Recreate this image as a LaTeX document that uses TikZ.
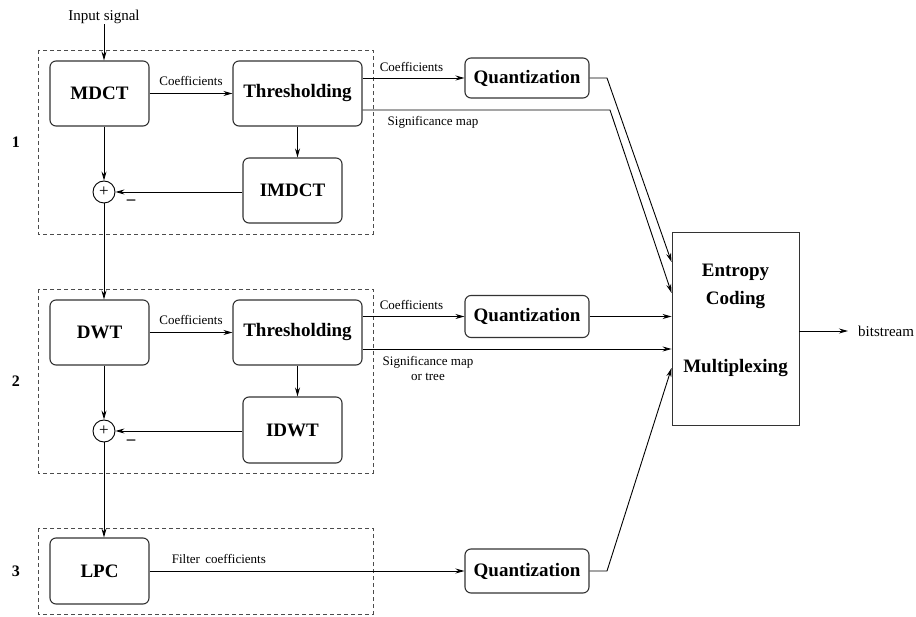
\documentclass[tikz,border=0pt]{standalone}
\usepackage{fontspec}
\setmainfont{Liberation Serif}
\usetikzlibrary{arrows.meta}
\begin{document}
\begin{tikzpicture}[x=1pt,y=-1pt,
  blk/.style={draw=black!80, line width=1.1pt, rounded corners=6pt, inner sep=0pt,
    font=\bfseries\fontsize{19}{22}\selectfont},
  lbl/.style={inner sep=0pt, font=\fontsize{13}{15}\selectfont},
  big/.style={inner sep=0pt, font=\fontsize{15}{17}\selectfont},
  num/.style={inner sep=0pt, font=\bfseries\fontsize{16}{18}\selectfont},
  sumnode/.style={draw, circle, line width=0.9pt, minimum size=22pt, inner sep=0pt,
    font=\fontsize{17}{17}\selectfont},
  minus/.style={inner sep=0pt, font=\bfseries\fontsize{17}{17}\selectfont},
  frame/.style={draw=black!70, line width=0.9pt, dash pattern=on 4pt off 3pt},
  wire/.style={line width=0.9pt},
  arr/.style={wire, -{Stealth[length=9pt,width=5pt,inset=3pt]}}
]
\useasboundingbox (0,0) rectangle (916,617);

% stage frames
\draw[frame] (38,50) rectangle (373,234);
\draw[frame] (38,289) rectangle (373,473);
\draw[frame] (38,528) rectangle (373,614);

% stage numbers
\node[num] (n1) at (16,142) {1};
\node[num] (n2) at (16,381) {2};
\node[num] (n3) at (16,571) {3};

% stage 1: MDCT
\node[big] (in) at (104,17) {Input signal};
\node[blk, minimum width=99pt, minimum height=65pt] (mdct) at (99.5,93.5) {MDCT};
\node[blk, minimum width=129pt, minimum height=65pt] (thr1) at (297.5,93.5) {Thresholding};
\node[blk, minimum width=99pt, minimum height=65pt] (imdct) at (292.5,190.5) {IMDCT};
\node[sumnode] (sum1) at (104,192) {+};
\node[minus] (m1) at (131,202) {–};
\node[blk, minimum width=124pt, minimum height=40pt] (q1) at (527,78) {Quantization};

% stage 2: DWT
\node[blk, minimum width=99pt, minimum height=65pt] (dwt) at (99.5,332.5) {DWT};
\node[blk, minimum width=129pt, minimum height=65pt] (thr2) at (297.5,332.5) {Thresholding};
\node[blk, minimum width=99pt, minimum height=66pt] (idwt) at (292.5,430) {IDWT};
\node[sumnode] (sum2) at (104,431) {+};
\node[minus] (m2) at (131,442) {–};
\node[blk, minimum width=124pt, minimum height=42pt] (q2) at (527,316.5) {Quantization};

% stage 3: LPC
\node[blk, minimum width=99pt, minimum height=66pt] (lpc) at (99.5,571) {LPC};
\node[blk, minimum width=124pt, minimum height=44pt] (q3) at (527,571) {Quantization};

% entropy coder / multiplexer
\node[draw=black!80, line width=0.9pt, minimum width=127pt, minimum height=193pt] (ent) at (735.5,328.5) {};
\node[inner sep=0pt, align=center, font=\bfseries\fontsize{19}{28}\selectfont] (enttxt) at (735.5,320)
  {Entropy\\Coding\\[40pt]Multiplexing};
\node[big, anchor=west] (bits) at (858,331) {bitstream};
\coordinate (bitsin) at (848,331);

% bends of the links into the coder
\coordinate (b1) at (607,78);
\coordinate (b2) at (610,110);
\coordinate (b3) at (607,571);

% stage 1 links
\draw[arr] (in.south) -- (in |- mdct.north);
\draw[arr] (mdct.east) -- node[lbl, above=7pt] (c1) {Coefficients} (mdct.east -| thr1.west);
\draw[arr] (thr1.south) -- (thr1.south |- imdct.north);
\draw[arr] (imdct.west |- sum1) -- (sum1.east);
\draw[arr] (sum1 |- mdct.south) -- (sum1.north);
\draw[arr] (thr1.east |- q1) -- node[lbl, pos=0.48, above=6pt] (c2) {Coefficients} (q1.west);
\draw[arr] (q1.east) -- (b1) -- (ent.west |- 0,262);
\draw[arr] (thr1.east |- b2) -- (b2) -- (ent.west |- 0,293);
\node[lbl] (s1) at (433,122) {Significance map};

% stage 2 links
\draw[arr] (sum1.south) -- (sum1 |- dwt.north);
\draw[arr] (dwt.east) -- node[lbl, above=7pt] (c3) {Coefficients} (dwt.east -| thr2.west);
\draw[arr] (thr2.south) -- (thr2.south |- idwt.north);
\draw[arr] (idwt.west |- sum2) -- (sum2.east);
\draw[arr] (sum2 |- dwt.south) -- (sum2.north);
\draw[arr] (thr2.east |- q2) -- node[lbl, pos=0.48, above=6pt] (c4) {Coefficients} (q2.west);
\draw[arr] (q2.east) -- (ent.west |- q2);
\draw[arr] (thr2.east |- 0,349) -- (ent.west |- 0,349);
\node[lbl, align=center, font=\fontsize{13}{15}\selectfont] (s2) at (428,368) {Significance map\\or tree};

% stage 3 links
\draw[arr] (sum2.south) -- (sum2 |- lpc.north);
\draw[arr] (lpc.east |- q3) -- node[lbl, pos=0.22, above=7pt] (c5) {Filter\, coefficients} (q3.west);
\draw[arr] (q3.east) -- (b3) -- (ent.west |- 0,368);

% output
\draw[arr] (ent.east |- bitsin) -- (bitsin);
\end{tikzpicture}
\end{document}
